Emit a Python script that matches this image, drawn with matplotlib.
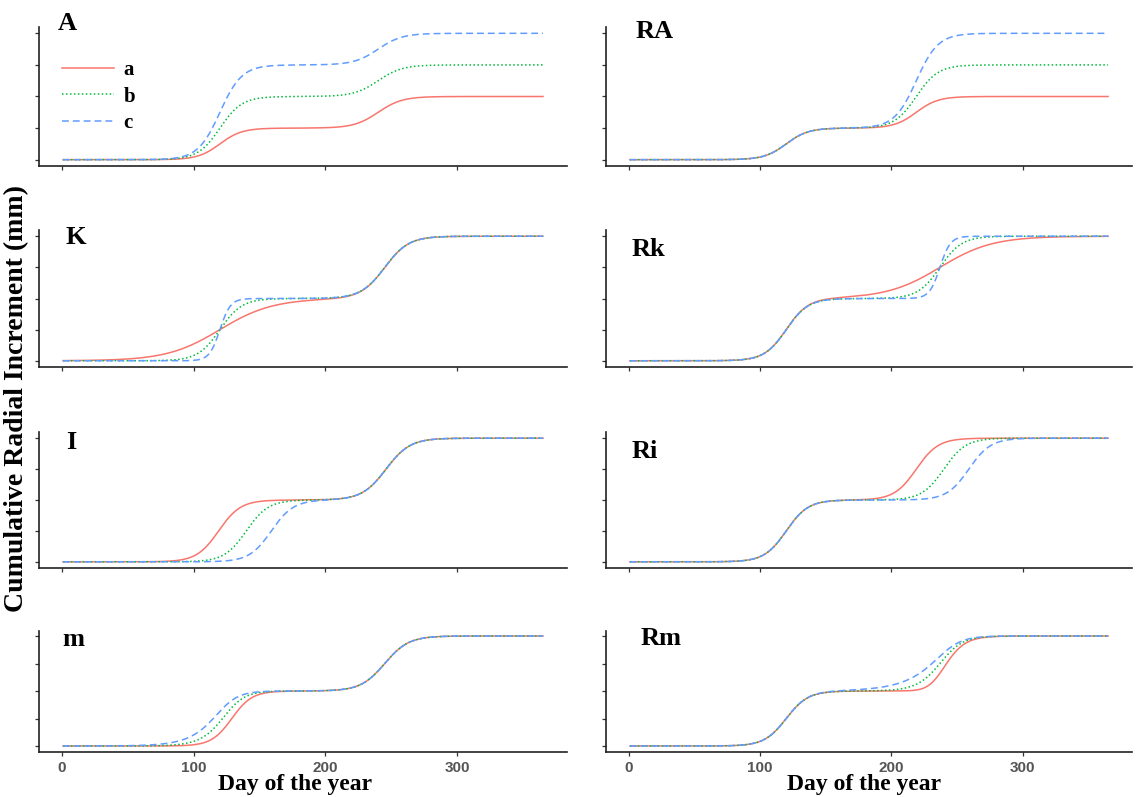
import numpy as np
import matplotlib
matplotlib.use("Agg")
import matplotlib.pyplot as plt

# ---------------- data ----------------
days = np.arange(1, 366)
panels = ["A", "RA", "K", "Rk", "I", "Ri", "m", "Rm"]
series = ["a", "b", "c"]

# phase 1 (spring) parameters for curves a, b, c in each panel
amp1 = [[1, 2, 3], [1, 1, 1], [1, 1, 1], [1, 1, 1], [1, 1, 1], [1, 1, 1], [1, 1, 1], [1, 1, 1]]
rate1 = [[0.12] * 3, [0.12] * 3, [0.05, 0.12, 0.25], [0.12] * 3, [0.12] * 3, [0.12] * 3, [0.13] * 3, [0.12] * 3]
infl1 = [[120] * 3, [120] * 3, [120] * 3, [120] * 3, [119, 140, 159], [120] * 3, [129, 125.2, 122.1], [120] * 3]
shape1 = [[1] * 3, [1] * 3, [1] * 3, [1] * 3, [1] * 3, [1] * 3, [1, 0.75, 0.55], [1] * 3]

# phase 2 (summer) parameters
amp2 = [[1, 1, 1], [1, 2, 3], [1, 1, 1], [1, 1, 1], [1, 1, 1], [1, 1, 1], [1, 1, 1], [1, 1, 1]]
rate2 = [[0.11] * 3, [0.12] * 3, [0.11] * 3, [0.05, 0.12, 0.25], [0.11] * 3, [0.12] * 3, [0.11] * 3, [0.12] * 3]
infl2 = [[240] * 3, [219] * 3, [245] * 3, [237] * 3, [246] * 3, [219, 240, 259], [245] * 3, [234.7, 238.9, 241.8]]
shape2 = [[1] * 3, [1] * 3, [1] * 3, [1] * 3, [1] * 3, [1] * 3, [1] * 3, [2, 0.85, 0.45]]

y_max = [4, 4, 2, 2, 2, 2, 2, 2]
y_step = [1, 1, 0.5, 0.5, 0.5, 0.5, 0.5, 0.5]
x_ticks = [0, 100, 200, 300]

colors = ["#F8766D", "#00BA38", "#619CFF"]
styles = ["-", (0, (1.0, 1.6)), (0, (4.5, 2.6))]


def phase(t, A, k, I, p):
    return A * (1.0 + np.exp(-k * (t - I))) ** (-p)


# ---------------- layout ----------------
W, H = 1137, 797
fig = plt.figure(figsize=(W / 100, H / 100), dpi=100)
cols_x = [(39, 567), (606, 1132)]
rows_y = [(27, 166), (230, 367), (432, 568), (630.5, 751.5)]
label_pos = [(58, 12), (636, 20), (66, 226), (632, 238), (66, 431), (632, 440), (62, 628), (641, 627)]

serif = "Liberation Serif"
xr = (days[-1] - days[0]) * 0.05

for idx, name in enumerate(panels):
    r, c = divmod(idx, 2)
    x0, x1 = cols_x[c]
    y0, y1 = rows_y[r]
    ax = fig.add_axes([x0 / W, 1 - y1 / H, (x1 - x0) / W, (y1 - y0) / H])
    for j, s in enumerate(series):
        y = phase(days, amp1[idx][j], rate1[idx][j], infl1[idx][j], shape1[idx][j]) + \
            phase(days, amp2[idx][j], rate2[idx][j], infl2[idx][j], shape2[idx][j])
        ax.plot(days, y, color=colors[j], linestyle=styles[j], lw=1.1, label=s)
    ax.set_xlim(days[0] - xr, days[-1] + xr)
    ym = y_max[idx]
    ax.set_ylim(-0.05 * ym, ym * 1.05)
    ax.set_yticks(np.arange(0, ym + 1e-9, y_step[idx]))
    ax.set_xticks(x_ticks)
    ax.set_yticklabels([])
    if r == 3:
        ax.set_xticklabels([str(v) for v in x_ticks])
    else:
        ax.set_xticklabels([])
    for sp in ["top", "right"]:
        ax.spines[sp].set_visible(False)
    for sp in ["left", "bottom"]:
        ax.spines[sp].set_color("#222222")
        ax.spines[sp].set_linewidth(1.2)
    ax.tick_params(axis="both", length=3, width=0.9, color="#333333", pad=3.5,
                   labelsize=11, labelcolor="#555555")
    for lab in ax.get_xticklabels():
        lab.set_fontweight("bold")
        lab.set_family("Liberation Sans")
    lx, ly = label_pos[idx]
    fig.text(lx / W, 1 - ly / H, name, ha="left", va="top", family=serif,
             fontweight="bold", fontsize=19)
    if name == "A":
        ax.legend(loc="upper left", bbox_to_anchor=(62 / W, 1 - 60 / H),
                  bbox_transform=fig.transFigure, frameon=False, borderpad=0,
                  borderaxespad=0, handlelength=2.5, handletextpad=0.45,
                  labelspacing=0.32,
                  prop=dict(family=serif, weight="bold", size=15))

fig.text(17 / W, 1 - 398 / H, "Cumulative Radial Increment (mm)", rotation=90,
         ha="center", va="center", family=serif, fontweight="bold", fontsize=20)
for cx in (295, 864):
    fig.text(cx / W, 1 - 795 / H, "Day of the year", ha="center", va="bottom",
             family=serif, fontweight="bold", fontsize=17)

fig.savefig("out.png", dpi=100)
